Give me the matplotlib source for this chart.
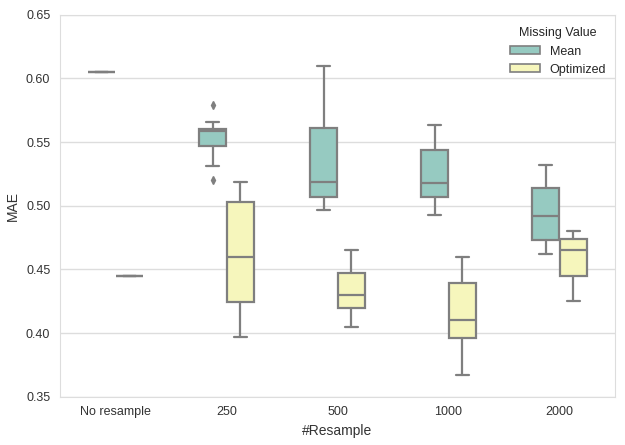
import colorsys
import matplotlib
matplotlib.use("Agg")
import matplotlib.pyplot as plt
import matplotlib.colors as mcolors
from matplotlib.patches import Patch
import seaborn as sns

categories = ["No resample", "250", "500", "1000", "2000"]
hues = ["Mean", "Optimized"]

# five-number summaries: [whislo, q1, med, q3, whishi]
mean_stats = [
    [0.605, 0.605, 0.605, 0.605, 0.605],
    [0.531, 0.547, 0.559, 0.560, 0.566],
    [0.497, 0.507, 0.519, 0.561, 0.610],
    [0.493, 0.507, 0.518, 0.544, 0.563],
    [0.462, 0.473, 0.492, 0.514, 0.532],
]
opt_stats = [
    [0.445, 0.445, 0.445, 0.445, 0.445],
    [0.397, 0.424, 0.460, 0.503, 0.519],
    [0.405, 0.420, 0.430, 0.447, 0.465],
    [0.367, 0.396, 0.410, 0.439, 0.460],
    [0.425, 0.445, 0.465, 0.474, 0.480],
]
mean_fliers = [[], [0.579, 0.520], [], [], []]
opt_fliers = [[], [], [], [], []]

yticks = [0.35, 0.40, 0.45, 0.50, 0.55, 0.60, 0.65]


def desat(c, prop=0.75):
    r, g, b = mcolors.to_rgb(c)
    h, l, s = colorsys.rgb_to_hls(r, g, b)
    return colorsys.hls_to_rgb(h, l, s * prop)


sns.set_style("whitegrid")
plt.rcParams["font.family"] = ["Liberation Sans", "DejaVu Sans"]

colors = [desat("#8dd3c7"), desat("#ffffb3")]
gray = "#7f7f7f"

fig = plt.figure(figsize=(6.25, 4.45), dpi=100)
ax = fig.add_axes([0.096, 0.1085, 0.888, 0.8585])

box_w = 0.25
for hi, (stats_list, fl_list) in enumerate([(mean_stats, mean_fliers), (opt_stats, opt_fliers)]):
    bstats = []
    for s, fl in zip(stats_list, fl_list):
        bstats.append(dict(whislo=s[0], q1=s[1], med=s[2], q3=s[3], whishi=s[4], fliers=fl))
    offset = -box_w / 2 if hi == 0 else box_w / 2
    positions = [i + offset for i in range(len(categories))]
    ax.bxp(bstats, positions=positions, widths=box_w * 0.98, patch_artist=True,
           showfliers=True, manage_ticks=False,
           boxprops=dict(facecolor=colors[hi], edgecolor=gray, linewidth=1.6),
           medianprops=dict(color=gray, linewidth=1.6),
           whiskerprops=dict(color=gray, linewidth=1.6),
           capprops=dict(color=gray, linewidth=1.6),
           flierprops=dict(marker="d", markerfacecolor=gray, markeredgecolor=gray,
                           markersize=4, linestyle="none"))

ax.set_xlim(-0.5, len(categories) - 0.5)
ax.set_xticks(range(len(categories)))
ax.set_xticklabels(categories)
ax.set_ylim(0.35, 0.65)
ax.set_yticks(yticks)
ax.set_yticklabels([f"{v:.2f}" for v in yticks])
ax.xaxis.grid(False)
ax.yaxis.grid(True, color="#dddddd", linewidth=1)
for sp in ax.spines.values():
    sp.set_color("#dddddd")
ax.tick_params(axis="both", length=0, labelsize=9, colors="#333333", pad=7)
ax.set_xlabel("#Resample", fontsize=10, color="#333333")
ax.set_ylabel("MAE", fontsize=10, color="#333333")

handles = [Patch(facecolor=colors[i], edgecolor=gray, linewidth=1.2, label=hues[i]) for i in range(2)]
leg = ax.legend(handles=handles, title="Missing Value", loc="upper right", frameon=False,
                fontsize=9, title_fontsize=9, bbox_to_anchor=(1.0, 0.99),
                labelspacing=0.5, handleheight=0.6, handlelength=2.4, borderaxespad=0.3)

fig.savefig("out.png", dpi=100)
